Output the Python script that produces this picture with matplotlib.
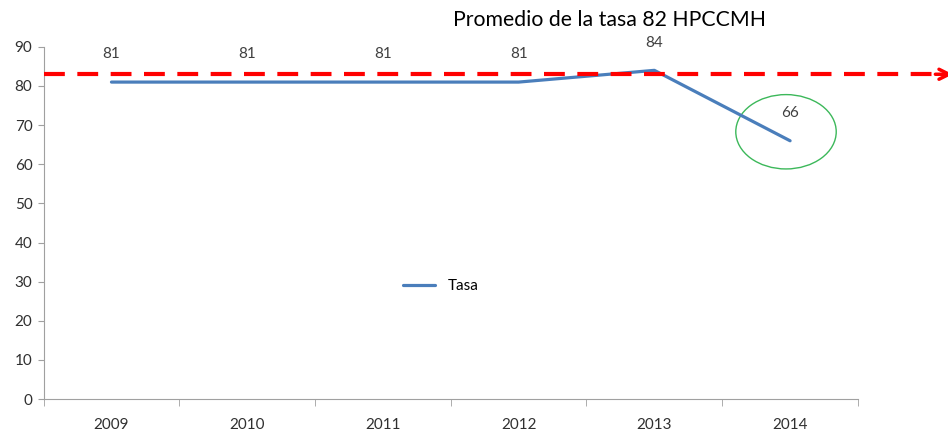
import matplotlib.pyplot as plt
from matplotlib.patches import Ellipse

# Datos
years = ['2009', '2010', '2011', '2012', '2013', '2014']
tasa = [81, 81, 81, 81, 84, 66]
promedio = 83

plt.rcParams['font.family'] = ['Lato', 'DejaVu Sans']

fig = plt.figure(figsize=(9.48, 4.38), dpi=100)
ax = fig.add_axes([0.046, 0.089, 0.859, 0.804])

x = list(range(len(years)))
ax.plot(x, tasa, color='#4a7ebb', lw=2.3, label='Tasa', solid_capstyle='round')

for xi, v in zip(x, tasa):
    ax.annotate(str(v), (xi, v), xytext=(0, 15), textcoords='offset points',
                ha='center', va='bottom', fontsize=11, color='#404040')

# linea de promedio con flecha
ax.plot([-0.5, 6.1], [promedio, promedio], color='red', lw=3, ls=(0, (5, 3)),
        clip_on=False, zorder=5)
ax.annotate('', xy=(6.22, promedio), xytext=(6.05, promedio),
            arrowprops=dict(arrowstyle='->', color='red', lw=2.5,
                            mutation_scale=18),
            annotation_clip=False)

ax.add_patch(Ellipse((4.97, 68.3), 0.74, 19, fill=False, edgecolor='#3cb85a', lw=1))

ax.set_xlim(-0.5, 5.5)
ax.set_ylim(0, 90)
ax.set_yticks(range(0, 91, 10))
ax.set_xticks(x)
ax.set_xticklabels(years)
ax.set_xticks([i - 0.5 for i in range(len(years) + 1)], minor=True)
ax.tick_params(axis='x', which='major', length=0, pad=14, labelsize=11,
               labelcolor='#303030')
ax.tick_params(axis='x', which='minor', length=5, color='#a0a0a0', direction='out')
ax.tick_params(axis='y', length=4, color='#a0a0a0', labelsize=11, pad=4,
               labelcolor='#303030')

for s in ['top', 'right']:
    ax.spines[s].set_visible(False)
for s in ['left', 'bottom']:
    ax.spines[s].set_color('#a0a0a0')

ax.legend(loc='center', bbox_to_anchor=(0.488, 0.32), frameon=False, fontsize=11,
          handlelength=2.1)

fig.text(0.643, 0.955, 'Promedio de la tasa 82 HPCCMH', ha='center', va='center',
         fontsize=15.3)

plt.savefig('out.png', dpi=100)
